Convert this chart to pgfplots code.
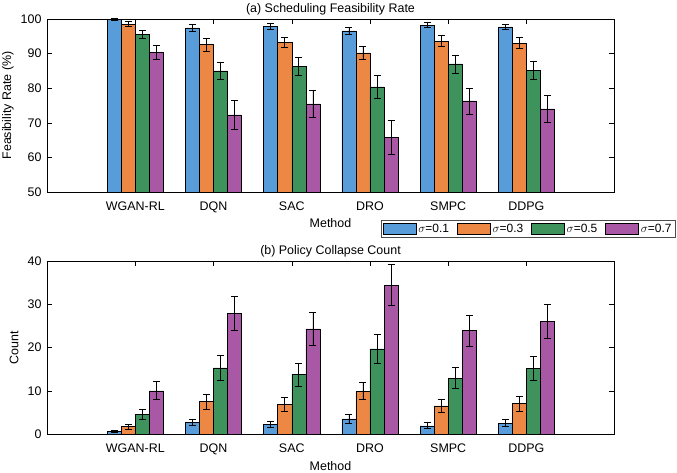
\documentclass[border=0pt]{standalone}
\usepackage{fontspec}
\setmainfont{Liberation Sans}
\usepackage{pgfplots}
\pgfplotsset{compat=1.18}
\definecolor{cA}{RGB}{88,157,218}
\definecolor{cB}{RGB}{236,136,68}
\definecolor{cC}{RGB}{62,146,92}
\definecolor{cD}{RGB}{168,88,164}
\pgfplotsset{
 mybase/.style={
  scale only axis, width=567bp, height=173bp,
  xmin=-0.13, xmax=7.12,
  xtick={1,...,6}, xticklabels={WGAN-RL,DQN,SAC,DRO,SMPC,DDPG},
  tick align=inside, major tick length=5bp,
  tick style={black, line width=0.5bp}, axis line style={line width=0.6bp},
  ticklabel style={font=\fontsize{12.5}{14}\selectfont},
  /pgf/number format/assume math mode=true,
  xticklabel style={anchor=base, yshift=-18.5bp},
  yticklabel style={xshift=-2bp},
  label style={font=\fontsize{12.5}{14}\selectfont},
  xlabel={Method},
  xlabel style={at={(axis description cs:0.5,0)}, anchor=base, yshift=-36bp},
  title style={font=\fontsize{12.5}{14}\selectfont, at={(axis description cs:0.5,1)}, anchor=base, yshift=1bp},
  every axis plot/.append style={draw=black, line width=0.5bp, mark=none},
  error bars/y dir=both, error bars/y explicit,
  error bars/error bar style={black, line width=0.7bp},
  error bars/error mark options={rotate=90, mark size=3.5bp, black, line width=0.7bp},
  legend image code/.code={\draw[#1,/tikz/.cd] (0bp,-5.5bp) rectangle (33bp,5.5bp);},
 },
 bA/.style={ybar, bar width=0.18, bar shift=0, fill=cA, x filter/.expression={x-0.27}},
 bB/.style={ybar, bar width=0.18, bar shift=0, fill=cB, x filter/.expression={x-0.09}},
 bC/.style={ybar, bar width=0.18, bar shift=0, fill=cC, x filter/.expression={x+0.09}},
 bD/.style={ybar, bar width=0.18, bar shift=0, fill=cD, x filter/.expression={x+0.27}},
}
\begin{document}
\begin{tikzpicture}
\useasboundingbox (0,0) rectangle (677bp,473bp);
\begin{axis}[mybase, at={(47bp,281bp)}, anchor=south west,
  ymin=50, ymax=100, ytick={50,60,...,100},
  ylabel={Feasibility Rate (\%)},
  ylabel style={at={(axis description cs:-0.0688,0.5)}, anchor=center},
  title={(a) Scheduling Feasibility Rate},
  legend columns=4,
  legend style={at={(1.109,-0.162)}, anchor=north east, draw=black!70, line width=0.5bp,
    font=\fontsize{12}{13}\selectfont, inner xsep=2bp, inner ysep=1.5bp,
    /tikz/every even column/.append style={column sep=6bp}},
]
\addplot[bA] coordinates {(1,99.8) +- (0,0.3) (2,97.4) +- (0,1.05) (3,97.9) +- (0,0.8) (4,96.6) +- (0,1.0) (5,98.2) +- (0,0.7) (6,97.7) +- (0,0.8)};
\addplot[bB] coordinates {(1,98.5) +- (0,0.7) (2,92.6) +- (0,1.9) (3,93.3) +- (0,1.5) (4,90.2) +- (0,2.0) (5,93.6) +- (0,1.6) (6,93.0) +- (0,1.6)};
\addplot[bC] coordinates {(1,95.5) +- (0,1.15) (2,85.0) +- (0,2.5) (3,86.3) +- (0,2.7) (4,80.4) +- (0,3.2) (5,87.0) +- (0,2.6) (6,85.2) +- (0,2.7)};
\addplot[bD] coordinates {(1,90.4) +- (0,2.0) (2,72.3) +- (0,4.1) (3,75.5) +- (0,3.9) (4,65.8) +- (0,4.9) (5,76.3) +- (0,3.75) (6,74.0) +- (0,3.9)};
\legend{$\sigma$=0.1,$\sigma$=0.3,$\sigma$=0.5,$\sigma$=0.7}
\end{axis}
\begin{axis}[mybase, at={(47bp,39bp)}, anchor=south west,
  ymin=0, ymax=40, ytick={0,10,...,40},
  ylabel={Count},
  ylabel style={at={(axis description cs:-0.0582,0.5)}, anchor=center},
  title={(b) Policy Collapse Count},
]
\addplot[bA] coordinates {(1,0.54) +- (0,0.25) (2,2.7) +- (0,0.8) (3,2.2) +- (0,0.75) (4,3.5) +- (0,1.1) (5,1.9) +- (0,0.7) (6,2.5) +- (0,0.8)};
\addplot[bB] coordinates {(1,1.7) +- (0,0.6) (2,7.5) +- (0,1.75) (3,6.9) +- (0,1.65) (4,9.9) +- (0,2.0) (5,6.5) +- (0,1.55) (6,7.0) +- (0,1.7)};
\addplot[bC] coordinates {(1,4.6) +- (0,1.15) (2,15.3) +- (0,2.9) (3,13.7) +- (0,2.65) (4,19.7) +- (0,3.25) (5,12.9) +- (0,2.45) (6,15.1) +- (0,2.8)};
\addplot[bD] coordinates {(1,10.0) +- (0,2.1) (2,27.9) +- (0,4.0) (3,24.3) +- (0,3.8) (4,34.4) +- (0,4.75) (5,23.9) +- (0,3.6) (6,26.0) +- (0,3.9)};
\end{axis}
\end{tikzpicture}
\end{document}
